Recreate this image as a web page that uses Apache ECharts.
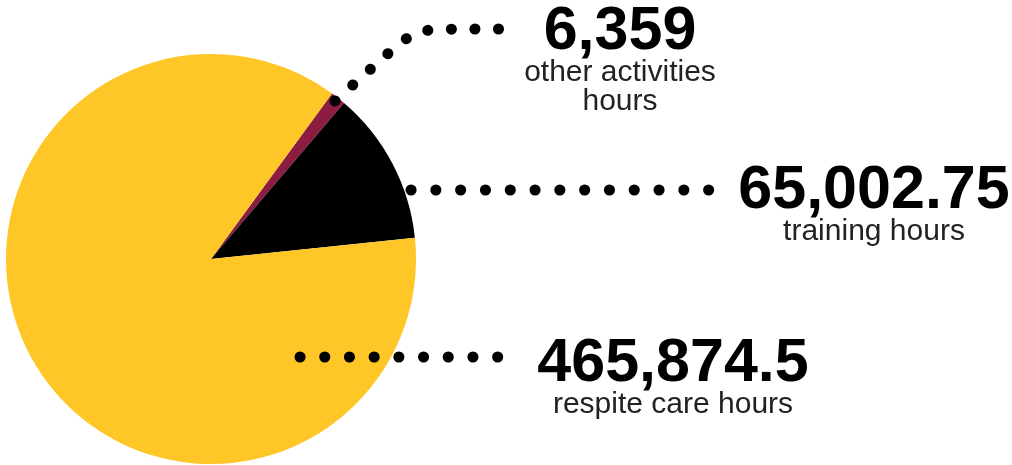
<!DOCTYPE html>
<html><head><meta charset="utf-8">
<script src="https://cdn.jsdelivr.net/npm/echarts@6/dist/echarts.min.js"></script>
<style>html,body{margin:0;padding:0;background:#fff}#c{width:1012px;height:465px}</style>
</head><body><div id="c"></div>
<script>
// ---- data ----
const categories = ['other activities\nhours', 'training hours', 'respite care hours'];
const values = [6359, 65002.75, 465874.5];
const colors = ['#8C1D40', '#000000', '#FFC627'];

// ---- label layout (annotation placement) ----
const labelAnchors = [
  { x: 620, y: 6,   line: [[335, 101], [415, 29], [505, 29]], gap: 23.5 },
  { x: 874, y: 165, line: [[411, 190], [710, 190]], gap: 24.7 },
  { x: 673, y: 338, line: [[300, 357], [500, 357]], gap: 24.6 }
];

const chart = echarts.init(document.getElementById('c'), null, { renderer: 'canvas' });

const pieBase = {
  type: 'pie',
  center: [211, 259],
  radius: 205,
  startAngle: 53.8,
  clockwise: true,
  avoidLabelOverlap: false,
  silent: true,
  emphasis: { disabled: true }
};

// visible slices
const sliceData = categories.map((name, i) => ({
  name: name, value: values[i], itemStyle: { color: colors[i], borderWidth: 0 }
}));

// transparent overlay carrying labels + dotted leader lines above the slices
const labelData = categories.map((name, i) => ({
  name: name,
  value: values[i],
  itemStyle: { color: 'rgba(0,0,0,0)', borderWidth: 0 },
  labelLine: {
    show: true,
    smooth: 0.15,
    lineStyle: { color: '#000', opacity: 1, width: 11, type: [0.1, labelAnchors[i].gap], cap: 'round' }
  }
}));

chart.setOption({
  animation: false,
  backgroundColor: '#fff',
  series: [
    Object.assign({}, pieBase, {
      z: 1,
      label: { show: false },
      labelLine: { show: false },
      data: sliceData
    }),
    Object.assign({}, pieBase, {
      z: 5,
      label: {
        show: true,
        position: 'outside',
        formatter: p => '{n|' + p.value.toLocaleString('en-US', { maximumFractionDigits: 2 }) + '}\n{s|' + p.name + '}',
        rich: {
          n: { fontFamily: 'Liberation Sans', fontWeight: 'bold', fontSize: 61, lineHeight: 52, color: '#000', align: 'center' },
          s: { fontFamily: 'Liberation Sans', fontSize: 30, lineHeight: 29, color: '#222', align: 'center' }
        }
      },
      labelLine: { show: true },
      labelLayout: function (params) {
        const a = labelAnchors[params.dataIndex];
        return {
          x: a.x,
          y: a.y,
          align: 'center',
          verticalAlign: 'top',
          labelLinePoints: a.line
        };
      },
      data: labelData
    })
  ]
});
</script>
</body></html>
